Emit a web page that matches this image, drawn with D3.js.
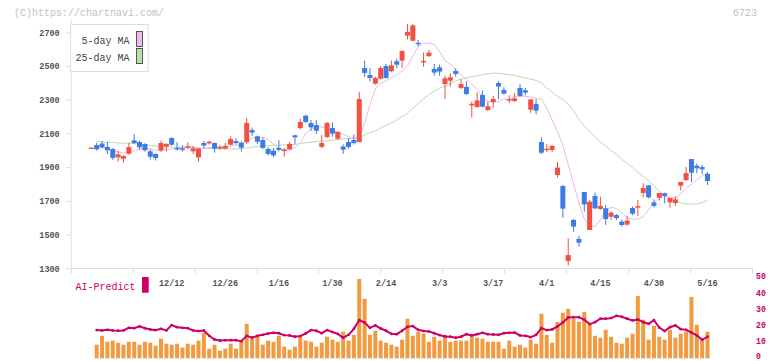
<!DOCTYPE html>
<html><head><meta charset="utf-8">
<script src="https://cdn.jsdelivr.net/npm/d3@7"></script>
<style>
body{margin:0;background:#fff}
svg{display:block}
text{font-family:"Liberation Mono","DejaVu Sans Mono",monospace}
</style>
</head><body>
<svg id="c" width="772" height="361"></svg>
<script>
// ---------- DATA ----------
const xLabels = ["12/12","12/26","1/16","1/30","2/14","3/3","3/17","4/1","4/15","4/30","5/16"];
const xLabelIdx = [15,25,35,45,55,65,75,85,95,105,115];
const yTicks = [1300,1500,1700,1900,2100,2300,2500,2700];
const volTicks = [0,10,20,30,40,50];

const opens  = [2012,2031,2040,2020,2008,1958,1950,1980,2059,2049,2037,1994,1978,2000,2022,2073,2014,2010,2016,1994,1958,2043,2041,2043,2010,2010,2033,2055,2045,2049,2120,2083,2061,2008,1998,2014,1998,2006,2089,2132,2205,2162,2150,2020,2079,2132,2069,2022,2049,2061,2049,2488,2447,2395,2425,2500,2469,2528,2532,2680,2650,2637,2524,2559,2482,2492,2393,2413,2470,2370,2376,2269,2257,2328,2239,2286,2399,2358,2298,2292,2370,2356,2241,2275,2049,2004,2002,1853,1788,1343,1587,1474,1753,1527,1729,1652,1656,1606,1616,1577,1559,1658,1662,1747,1792,1691,1719,1745,1691,1687,1790,1824,1948,1909,1901,1860];
const highs  = [2014,2045,2055,2050,2012,1998,1970,2043,2097,2057,2043,2006,1982,2057,2043,2077,2049,2030,2047,2026,2014,2055,2057,2047,2031,2043,2083,2073,2053,2192,2135,2087,2077,2018,2014,2061,2014,2049,2093,2186,2211,2180,2178,2091,2168,2166,2113,2034,2073,2095,2346,2532,2488,2437,2498,2512,2532,2544,2593,2749,2749,2654,2579,2595,2512,2508,2443,2457,2486,2423,2409,2288,2344,2354,2290,2322,2411,2374,2326,2340,2393,2370,2302,2302,2077,2037,2030,1931,1794,1478,1592,1492,1753,1705,1749,1725,1676,1640,1622,1590,1610,1666,1705,1804,1792,1709,1747,1749,1717,1727,1812,1901,1948,1921,1913,1871];
const lows   = [2010,1998,2012,1978,1944,1934,1927,1974,2037,2004,1992,1944,1940,1990,1994,2026,1998,1992,2006,1978,1932,2012,2033,1986,2004,2006,2029,2033,1992,2038,2085,2037,2006,1970,1958,1994,1962,2002,2037,2124,2162,2116,2097,2014,2073,2081,2061,1978,2010,2034,2049,2435,2407,2389,2421,2425,2465,2488,2488,2658,2647,2617,2496,2553,2443,2443,2304,2378,2437,2364,2328,2194,2253,2253,2233,2253,2304,2330,2282,2288,2316,2326,2223,2213,1978,1990,1990,1838,1600,1316,1517,1428,1636,1527,1650,1646,1557,1587,1587,1547,1553,1616,1610,1721,1715,1662,1701,1685,1660,1670,1761,1818,1812,1863,1859,1794];
const closes = [2012,2006,2018,2000,1955,1976,1966,2019,2043,2018,2000,1962,1954,2043,2037,2033,2006,2004,2020,2012,2010,2028,2051,2010,2020,2026,2067,2043,2016,2162,2105,2051,2014,1978,1970,2002,2002,2038,2077,2168,2168,2136,2116,2043,2162,2099,2109,2004,2020,2043,2304,2459,2429,2429,2488,2429,2504,2508,2589,2702,2741,2630,2528,2579,2461,2467,2427,2433,2453,2393,2334,2273,2296,2259,2261,2304,2378,2336,2300,2308,2322,2342,2302,2235,1986,2006,2026,1897,1654,1379,1547,1452,1679,1695,1656,1670,1592,1630,1598,1557,1583,1624,1666,1776,1721,1670,1747,1729,1717,1709,1812,1865,1867,1893,1887,1818];

const ma5 = [null,2021,2016,2008,1998,1990,1984,1984,1996,2006,2014,2008,2000,2000,2004,2008,2012,2016,2022,2020,2012,2012,2016,2018,2020,2018,2024,2030,2036,2054,2074,2078,2075,2065,2035,2012,2000,2002,2015,2045,2100,2125,2140,2138,2130,2120,2105,2095,2082,2070,2075,2160,2270,2365,2395,2412,2430,2447,2470,2500,2560,2615,2635,2635,2628,2585,2533,2510,2480,2448,2420,2392,2360,2320,2290,2284,2290,2305,2300,2318,2322,2320,2316,2306,2305,2250,2180,2110,2030,1915,1800,1690,1592,1552,1547,1586,1645,1662,1655,1630,1600,1592,1592,1606,1646,1690,1718,1725,1722,1716,1740,1775,1800,1825,1848,1867];
const ma25 = [null,2054,2050,2048,2046,2043,2042,2042,2040,2036,2032,2029,2026,2023,2021,2020,2019,2018,2017,2015,2013,2012,2011,2010,2009,2008,2007,2008,2011,2014,2018,2023,2026,2028,2030,2031,2032,2033,2035,2040,2045,2049,2051,2053,2056,2060,2064,2068,2070,2072,2075,2090,2105,2115,2133,2148,2162,2180,2200,2220,2250,2280,2305,2330,2350,2368,2380,2395,2412,2422,2430,2437,2442,2448,2454,2458,2457,2453,2448,2445,2436,2428,2422,2414,2400,2370,2345,2320,2302,2275,2235,2185,2145,2112,2080,2050,2025,2000,1975,1948,1923,1898,1870,1845,1820,1790,1758,1735,1715,1698,1688,1682,1681,1681,1690,1705];

const volume = [null,8.4,13.9,10.2,10.9,9.6,8.4,10.2,10.2,8.4,10.2,9.6,7.8,12.1,9.0,8.4,9.0,6.6,9.0,8.4,10.9,15.8,5.9,8.4,4.7,5.9,9.0,5.9,10.2,21.3,12.1,13.3,8.4,10.9,10.2,13.9,7.2,5.3,7.2,13.3,10.9,10.2,7.2,9.6,13.3,11.5,10.2,16.4,10.9,14.5,49,36.7,14.5,17,10.9,9.6,8.4,7.2,11.5,24.4,13.9,16.4,15.2,10.2,13.3,10.9,14.5,10.2,10.9,10.9,10.9,13.9,12.7,12.1,10.2,10.2,10.2,5.9,10.9,7.2,8.4,6.6,11.5,9.0,27.5,14.5,9.6,22.5,28.1,30.5,24.4,22.5,28.7,21.3,13.9,12.7,17.6,13.3,9.6,9.0,12.7,15.2,38.5,23.8,11.5,20.1,13.3,11.5,17.6,12.7,15.2,16.4,37.9,20.7,11.5,16.4];
const aiPredict = [null,17.4,17.2,17.6,17.2,17.0,17.2,18.8,18.6,19.7,18.6,17.8,17.4,18.2,17.2,20.5,19.2,18.8,18.6,17.2,16.8,17.2,13.9,11.6,11.0,11.2,11.2,11.2,10.6,13.9,12.7,13.9,14.5,15.3,15.7,15.5,14.3,14.1,13.3,13.7,15.3,17.4,17.0,15.5,17.4,16.2,15.1,12.7,14.5,18.2,23.6,22.1,18.8,20.3,18.4,17.0,15.1,14.9,17.0,19.4,19.9,17.6,16.8,16.6,15.5,14.3,13.5,13.3,12.7,13.3,14.9,14.1,14.9,15.7,14.9,14.7,14.5,15.5,15.7,15.9,14.1,13.9,13.1,14.5,18.6,17.4,17.8,19.7,22.1,25.2,25.4,25.4,23.8,21.1,22.3,24.4,24.4,24.8,26.2,25.6,24.4,23.4,24.0,22.3,21.3,23.6,19.0,16.8,19.2,20.3,18.0,17.6,15.9,14.1,11.4,13.3];

// ---------- STYLE ----------
const C = {up:"#f25040", down:"#3d7be6", ma5:"#eab8ea", ma25:"#b8deab", axis:"#dddddd",
           tick:"#555", vol:"#f29a40", ai:"#cc0066", wm:"#c0c0c0"};

const svg = d3.select("#c");
const x  = d3.scaleLinear().domain([-3.85, 123.3]).range([70.7, 752]);
const y  = d3.scaleLinear().domain([1300, 2780]).range([268.3, 18.8]);
const yb = d3.scaleLinear().domain([0, 50]).range([358.3, 277.3]);
const idx = d3.range(opens.length);

// watermark
svg.append("text").attr("x",14).attr("y",16).attr("font-size",10).attr("fill",C.wm).text("(C)https://chartnavi.com/");
svg.append("text").attr("x",757).attr("y",16).attr("text-anchor","end").attr("font-size",10).attr("fill",C.wm).text("6723");

// left axis
const ax = svg.append("g").attr("transform","translate(70.7,0)")
  .call(d3.axisLeft(y).tickValues(yTicks).tickSize(5).tickSizeOuter(0).tickPadding(6).tickFormat(d3.format("d")));
ax.select(".domain").attr("stroke",C.axis);
ax.selectAll(".tick line").attr("stroke",C.axis);
ax.selectAll("text").attr("font-family","Liberation Mono, monospace").attr("font-size",8.5).attr("font-weight","bold").attr("fill",C.tick);

// bottom axis line + evenly spaced ticks
const [r0, r1] = x.range();
svg.append("line").attr("x1",r0).attr("x2",r1).attr("y1",268.5).attr("y2",268.5).attr("stroke",C.axis);
svg.selectAll(".bt").data(d3.range(12)).join("line")
  .attr("x1",k=>Math.round(r0+k*(r1-r0)/11)+0.5).attr("x2",k=>Math.round(r0+k*(r1-r0)/11)+0.5)
  .attr("y1",268).attr("y2",273.5).attr("stroke",C.axis);

// MA lines
const lineGen = d3.line().defined(d=>d[1]!=null).x(d=>x(d[0])).y(d=>y(d[1]));
svg.append("path").attr("d",lineGen(idx.map(i=>[i,ma25[i]]))).attr("fill","none").attr("stroke",C.ma25).attr("stroke-width",1);
svg.append("path").attr("d",lineGen(idx.map(i=>[i,ma5[i]]))).attr("fill","none").attr("stroke",C.ma5).attr("stroke-width",1);

// candles
const cg = svg.append("g");
idx.forEach(i=>{
  const o=opens[i], c=closes[i], h=highs[i], l=lows[i];
  const col = c>=o ? C.up : C.down;
  const cx = x(i);
  cg.append("rect").attr("x",cx-0.5).attr("width",1).attr("y",y(h)).attr("height",Math.max(1,y(l)-y(h))).attr("fill",col);
  const top=y(Math.max(o,c)), bot=y(Math.min(o,c));
  const hgt=Math.max(1.5,bot-top);
  cg.append("rect").attr("x",cx-2.5).attr("width",5).attr("y",(top+bot)/2-hgt/2).attr("height",hgt).attr("fill",col);
});

// legend
svg.append("rect").attr("x",70.7).attr("y",24.5).attr("width",77.5).attr("height",47).attr("fill","#fff").attr("stroke","#dddddd");
svg.append("text").attr("x",129.5).attr("y",43.5).attr("text-anchor","end").attr("font-size",10).attr("fill","#444").text("5-day MA");
svg.append("text").attr("x",129.5).attr("y",60.5).attr("text-anchor","end").attr("font-size",10).attr("fill","#444").text("25-day MA");
svg.append("rect").attr("x",136.5).attr("y",31.5).attr("width",6).attr("height",15).attr("fill","#f0b8f0").attr("stroke","#555");
svg.append("rect").attr("x",136.5).attr("y",48.5).attr("width",6).attr("height",15).attr("fill","#b8e0ae").attr("stroke","#555");

// x labels
svg.selectAll(".xl").data(xLabels).join("text")
  .attr("x",(d,k)=>x(xLabelIdx[k])).attr("y",285.5).attr("text-anchor","middle")
  .attr("font-size",8.5).attr("font-weight","bold").attr("fill",C.tick).text(d=>d);

// AI-Predict label
svg.append("text").attr("x",75.5).attr("y",289.5).attr("font-size",10).attr("fill",C.ai).text("AI-Predict");
svg.append("rect").attr("x",142).attr("y",277).attr("width",6.7).attr("height",15.7).attr("fill",C.ai);

// right axis (bottom panel)
const ra = svg.append("g").attr("transform","translate(752,-1)")
  .call(d3.axisRight(yb).tickValues(volTicks).tickSize(0).tickPadding(4));
ra.select(".domain").remove();
ra.selectAll("text").attr("font-family","Liberation Mono, monospace").attr("font-size",8.2).attr("font-weight","bold").attr("fill",C.ai)
  .attr("dy", d => d === 0 ? "0.1em" : "0.32em");

// volume bars
svg.selectAll(".vb").data(idx.filter(i=>volume[i]!=null)).join("rect")
  .attr("x",i=>x(i)-2).attr("width",4)
  .attr("y",i=>yb(volume[i])).attr("height",i=>yb(0)-yb(volume[i])).attr("fill",C.vol);

// AI line
const aiLine = d3.line().defined(d=>d[1]!=null).x(d=>x(d[0])).y(d=>yb(d[1]));
svg.append("path").attr("d",aiLine(idx.map(i=>[i,aiPredict[i]]))).attr("fill","none").attr("stroke",C.ai).attr("stroke-width",2);
svg.selectAll(".ad").data(idx.filter(i=>aiPredict[i]!=null)).join("circle")
  .attr("cx",i=>x(i)).attr("cy",i=>yb(aiPredict[i])).attr("r",1.4).attr("fill",C.ai);
</script>
</body></html>
